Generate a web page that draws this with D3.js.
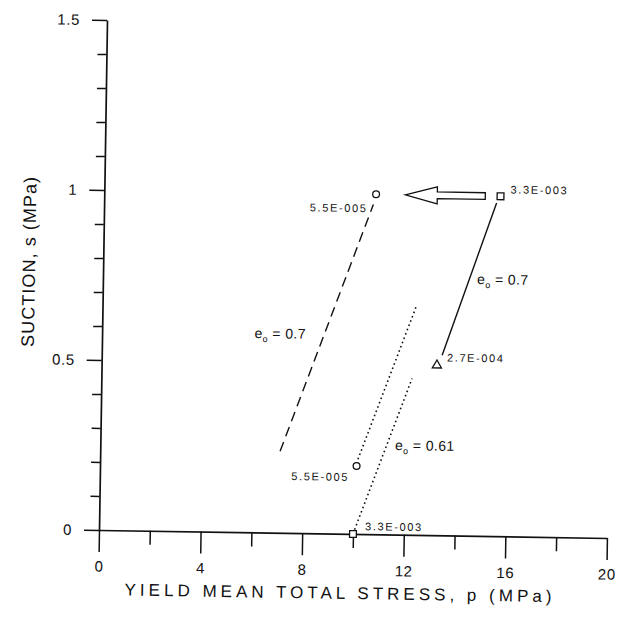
<!DOCTYPE html>
<html>
<head>
<meta charset="utf-8">
<script src="https://cdn.jsdelivr.net/npm/d3@7"></script>
<style>
  html, body { margin: 0; padding: 0; background: #fff; }
  svg { display: block; }
  text { font-family: "Liberation Sans", Arial, Helvetica, sans-serif; fill: #111; }
</style>
</head>
<body>
<svg id="chart" width="617" height="617"></svg>
<script>
// Yield points: mean total stress p (MPa) vs suction s (MPa)
const markerP      = [15.6, 10.7, 13.2, 10.1, 10.0];
const markerS      = [1.0, 1.0, 0.5, 0.2, 0.0];
const markerShape  = ["square", "circle", "triangle", "circle", "square"];
const markerLabels = ["3.3E-003", "5.5E-005", "2.7E-004", "5.5E-005", "3.3E-003"];

// Yield loci segments [p, s]
const solidLocus   = [[13.4, 0.53], [15.45, 0.98]];
const dashedLocus  = [[7.08, 0.24], [10.6, 0.97]];
const dottedUpper  = [[10.15, 0.22], [12.34, 0.67]];
const dottedLower  = [[10.0, 0.0], [12.23, 0.46]];

// Arrow pointing from the square point toward the circle point, s = 1
const arrowFrom = [15.0, 1.0];
const arrowTo   = [11.85, 1.0];

// Void ratio annotations
const voidRatioText = ["0.7", "0.61", "0.7"];
const voidRatioP    = [6.0, 11.6, 14.73];
const voidRatioS    = [0.572, 0.249, 0.741];

// Axis ticks
const xMajorTicks = [0, 4, 8, 12, 16, 20];
const xMinorTicks = [2, 6, 10, 14, 18];
const yMajorTicks = [0, 0.5, 1, 1.5];
const yMinorTicks = [0.1, 0.2, 0.3, 0.4, 0.6, 0.7, 0.8, 0.9, 1.1, 1.2, 1.3, 1.4];

const svg = d3.select("#chart");
const origin = { x: 99, y: 530 };
const x = d3.scaleLinear().domain([0, 20]).range([99, 607]);
const y = d3.scaleLinear().domain([0, 1.5]).range([530, 20]);

// whole plot sits slightly tilted on the page
const g = svg.append("g").attr("transform", `rotate(0.9, ${origin.x}, ${origin.y})`);

function styleAxis(sel) {
  sel.selectAll("path.domain").attr("stroke", "#111").attr("stroke-width", 1.7);
  sel.selectAll(".tick line").attr("stroke", "#111").attr("stroke-width", 1.5);
  sel.selectAll(".tick text")
    .attr("font-family", "'Liberation Sans', Arial, sans-serif")
    .attr("font-size", 15).attr("letter-spacing", 0.6).attr("fill", "#111");
  sel.attr("font-family", null).attr("font-size", null);
}

// X axis
g.append("g").attr("transform", `translate(0,${y(0)})`)
  .call(d3.axisBottom(x).tickValues(xMinorTicks).tickSize(14).tickSizeOuter(0).tickFormat(""))
  .call(s => s.select("path.domain").remove())
  .call(styleAxis);
g.append("g").attr("transform", `translate(0,${y(0)})`)
  .call(d3.axisBottom(x).tickValues(xMajorTicks).tickSize(22).tickSizeOuter(0).tickPadding(9).tickFormat(d3.format("d")))
  .call(styleAxis);

// Y axis
g.append("g").attr("transform", `translate(${x(0)},0)`)
  .call(d3.axisLeft(y).tickValues(yMinorTicks).tickSize(9).tickSizeOuter(0).tickFormat(""))
  .call(s => s.select("path.domain").remove())
  .call(styleAxis);
g.append("g").attr("transform", `translate(${x(0)},0)`)
  .call(d3.axisLeft(y).tickValues(yMajorTicks).tickSize(15).tickSizeOuter(0).tickPadding(12)
        .tickFormat(d => d === 0 || d === 1 ? d3.format("d")(d) : d3.format(".1f")(d)))
  .call(styleAxis);

// Axis titles
g.append("text")
  .attr("x", (x(0) + x(20)) / 2 - 14).attr("y", 595)
  .attr("text-anchor", "middle").attr("font-size", 17)
  .attr("textLength", 427).attr("lengthAdjust", "spacing")
  .text("YIELD MEAN TOTAL STRESS, p (MPa)");
g.append("text")
  .attr("transform", `translate(31,${263}) rotate(-90)`)
  .attr("text-anchor", "middle").attr("font-size", 18)
  .attr("textLength", 170).attr("lengthAdjust", "spacing")
  .text("SUCTION, s (MPa)");

// Loci lines
const line = d3.line().x(d => x(d[0])).y(d => y(d[1]));
g.append("path").attr("d", line(solidLocus))
  .attr("fill", "none").attr("stroke", "#111").attr("stroke-width", 1.4);
g.append("path").attr("d", line(dashedLocus))
  .attr("fill", "none").attr("stroke", "#111").attr("stroke-width", 1.4)
  .attr("stroke-dasharray", "10,6");
[dottedUpper, dottedLower].forEach(seg => {
  g.append("path").attr("d", line(seg))
    .attr("fill", "none").attr("stroke", "#111").attr("stroke-width", 1.6)
    .attr("stroke-dasharray", "1.6,3");
});

// Hollow arrow
(function drawArrow() {
  const tx = x(arrowTo[0]), cy = y(arrowTo[1]);
  const tail = x(arrowFrom[0]);
  const headLen = 32, headHalf = 8.5, shaftHalf = 3.3;
  const pts = [
    [tx, cy], [tx + headLen, cy - headHalf], [tx + headLen, cy - shaftHalf],
    [tail, cy - shaftHalf], [tail, cy + shaftHalf], [tx + headLen, cy + shaftHalf],
    [tx + headLen, cy + headHalf]
  ];
  g.append("path").attr("d", d3.line()(pts) + "Z")
    .attr("fill", "#fff").attr("stroke", "#111").attr("stroke-width", 1.3)
    .attr("stroke-linejoin", "miter");
})();

// Markers
const markers = g.append("g");
markerP.forEach((p, i) => {
  const cx = x(p), cy = y(markerS[i]);
  const shape = markerShape[i];
  const common = m => m.attr("fill", "#fff").attr("stroke", "#111").attr("stroke-width", 1.3);
  if (shape === "circle") {
    common(markers.append("circle").attr("cx", cx).attr("cy", cy).attr("r", 3.4));
  } else if (shape === "square") {
    common(markers.append("rect").attr("x", cx - 3.4).attr("y", cy - 3.4).attr("width", 6.8).attr("height", 6.8));
  } else {
    const sym = d3.symbol().type(d3.symbolTriangle).size(36);
    common(markers.append("path").attr("d", sym()).attr("transform", `translate(${cx},${cy})`));
  }
});

// Marker labels (pixel offsets beside each point)
const labelOffsets = [
  { dx: 10, dy: -3, anchor: "start" },
  { dx: -10, dy: 18, anchor: "end" },
  { dx: 10, dy: -4, anchor: "start" },
  { dx: -9, dy: 15, anchor: "end" },
  { dx: 12, dy: -4, anchor: "start" }
];
markerLabels.forEach((t, i) => {
  const o = labelOffsets[i];
  g.append("text")
    .attr("x", x(markerP[i]) + o.dx).attr("y", y(markerS[i]) + o.dy)
    .attr("text-anchor", o.anchor).attr("font-size", 11)
    .attr("textLength", 56).attr("lengthAdjust", "spacing")
    .text(t);
});

// Void ratio labels  e_o = value
voidRatioText.forEach((v, i) => {
  const t = g.append("text")
    .attr("x", x(voidRatioP[i])).attr("y", y(voidRatioS[i]))
    .attr("font-size", 14).attr("letter-spacing", 0.4);
  t.append("tspan").text("e");
  t.append("tspan").attr("font-size", 9).attr("dy", 4).text("o");
  t.append("tspan").attr("dy", -4).text(" = " + v);
});
</script>
</body>
</html>
